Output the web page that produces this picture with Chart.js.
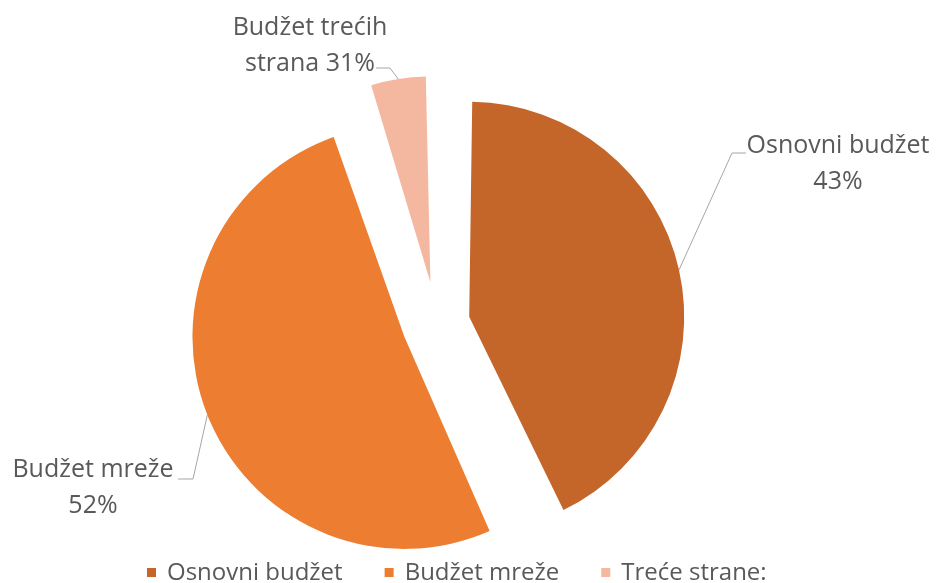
<!DOCTYPE html>
<html>
<head>
<meta charset="utf-8">
<title>Budžet</title>
<script src="https://cdn.jsdelivr.net/npm/chart.js@4.4.1/dist/chart.umd.min.js"></script>
<style>
  html, body { margin: 0; padding: 0; background: #fff; }
  #wrap { width: 937px; height: 583px; position: relative; }
</style>
</head>
<body>
<div id="wrap"><canvas id="chart"></canvas></div>
<script>
// --- data ---
const categories = ['Osnovni budžet', 'Budžet mreže', 'Treće strane:'];
const shares = [43, 52, 5];
// data label text exactly as printed next to each slice
const labelLines = [
    ['Osnovni budžet', '43%'],
    ['Budžet mreže', '52%'],
    ['Budžet trećih', 'strana 31%']
];

// --- styling ---
const sliceColors = ['#C4652A', '#ED7D31', '#F4B8A0'];
const sliceOffsets = [132, 140, 168];   // Chart.js moves an arc by offset / 4
const sliceRadius = [215, 212, 206];
const textColor = '#595959';
const leaderColor = '#A6A6A6';
const fontFamily = "'Open Sans', sans-serif";

// where each callout sits: text centre x, first baseline y, leader elbow and end
const callouts = [
    { x: 838, y: 153, elbow: [732, 153], end: [746, 153] },
    { x: 93, y: 477, elbow: [193, 479], end: [178, 479] },
    { x: 310, y: 35, elbow: [390, 68], end: [376, 68] }
];

/**
 * Chart.js grows an exploded arc's radius along with the offset;
 * pull it back so every slice keeps the radius it has in the picture.
 */
const explodeFix = {
    id: 'explodeFix',
    afterDatasetsUpdate(chart) {
        chart.getDatasetMeta(0).data.forEach(function (arc, i) {
            const shift = (arc.options.offset || 0) / 4;
            const fix = 1 - Math.sin(Math.min(Math.PI, arc.circumference));
            arc.outerRadius = sliceRadius[i] - shift * fix;
        });
    }
};

/**
 * Outside data labels with leader lines, plus the legend row at the bottom.
 */
const calloutsAndLegend = {
    id: 'calloutsAndLegend',
    afterDatasetsDraw(chart) {
        const ctx = chart.ctx;
        const meta = chart.getDatasetMeta(0);

        ctx.save();
        meta.data.forEach(function (arc, i) {
            const mid = (arc.startAngle + arc.endAngle) / 2;
            const shift = (arc.options.offset || 0) / 4;
            const fix = 1 - Math.sin(Math.min(Math.PI, arc.circumference));
            const r = arc.outerRadius + shift * fix;
            const ax = arc.x + Math.cos(mid) * (shift + r);
            const ay = arc.y + Math.sin(mid) * (shift + r);
            const c = callouts[i];

            ctx.strokeStyle = leaderColor;
            ctx.lineWidth = 1;
            ctx.beginPath();
            ctx.moveTo(ax, ay);
            ctx.lineTo(c.elbow[0], c.elbow[1]);
            ctx.lineTo(c.end[0], c.end[1]);
            ctx.stroke();

            ctx.fillStyle = textColor;
            ctx.font = '25px ' + fontFamily;
            ctx.textAlign = 'center';
            ctx.textBaseline = 'alphabetic';
            labelLines[i].forEach(function (line, k) {
                ctx.fillText(line, c.x, c.y + k * 35.5);
            });
        });

        // legend: small square, then the category name
        ctx.font = '24px ' + fontFamily;
        ctx.textAlign = 'left';
        ctx.textBaseline = 'alphabetic';
        let x = 147;
        categories.forEach(function (name, i) {
            ctx.fillStyle = sliceColors[i];
            ctx.fillRect(x, 568, 9, 9);
            ctx.fillStyle = textColor;
            ctx.fillText(name, x + 20, 580);
            x += 20 + ctx.measureText(name).width + 42;
        });
        ctx.restore();
    }
};

new Chart(document.getElementById('chart'), {
    type: 'pie',
    data: {
        labels: categories,
        datasets: [{
            data: shares,
            backgroundColor: sliceColors,
            borderWidth: 0,
            offset: sliceOffsets
        }]
    },
    options: {
        responsive: true,
        maintainAspectRatio: false,
        animation: false,
        radius: 215,
        layout: { padding: { left: 0, right: 63, top: 65, bottom: 0 } },
        plugins: {
            legend: { display: false },
            tooltip: { enabled: false }
        }
    },
    plugins: [explodeFix, calloutsAndLegend]
});
</script>
</body>
</html>
